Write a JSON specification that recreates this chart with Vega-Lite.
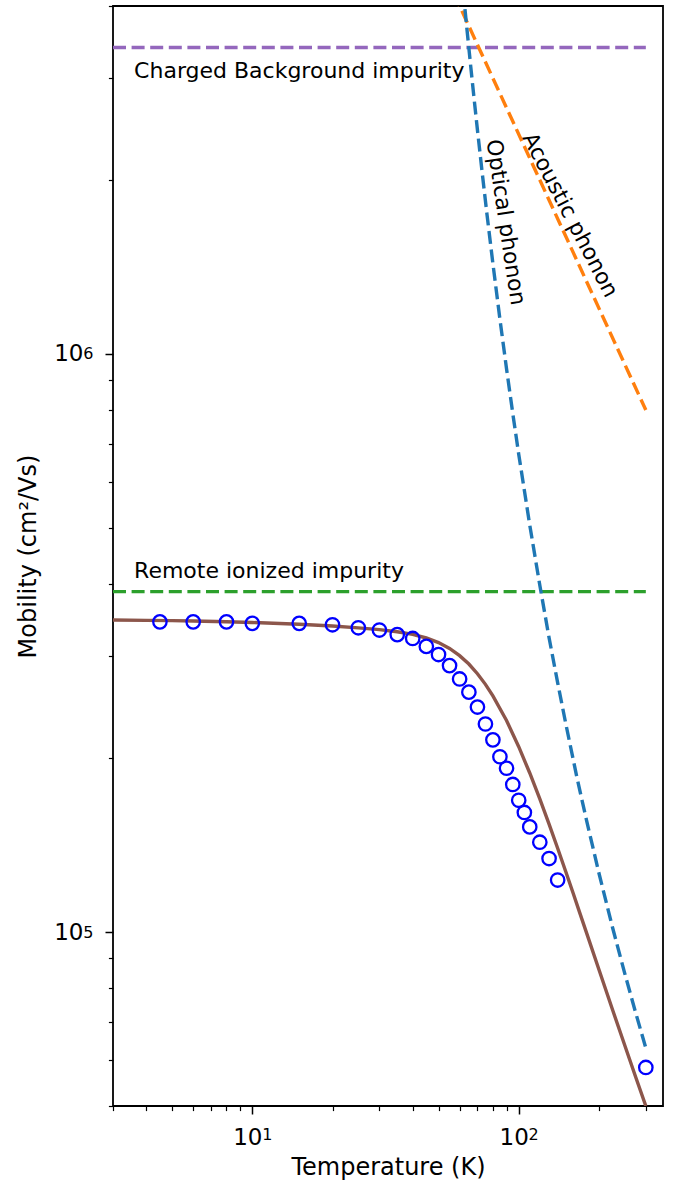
{
  "$schema": "https://vega.github.io/schema/vega-lite/v6.json",
  "width": 550,
  "height": 1100,
  "autosize": {"type": "none"},
  "padding": {"left": 113, "top": 6, "right": 10, "bottom": 76},
  "background": "white",
  "config": {
    "view": {"stroke": "black", "strokeWidth": 1.8},
    "font": "DejaVu Sans",
    "axis": {"labelFont": "DejaVu Sans", "titleFont": "DejaVu Sans", "labelColor": "black", "titleColor": "black", "tickColor": "black", "grid": false, "domain": false, "titleFontWeight": "normal"}
  },
  "datasets": {
    "bg": [{"T": 3, "mu": 3390000}, {"T": 300, "mu": 3390000}],
    "ri": [{"T": 3, "mu": 388000}, {"T": 300, "mu": 388000}],
    "ac": [{"T": 50, "mu": 4800000}, {"T": 300, "mu": 800000}],
    "op": [
      {"T": 60, "mu": 4930000}, {"T": 62, "mu": 4209000}, {"T": 64, "mu": 3628000}, {"T": 66, "mu": 3155000},
      {"T": 68, "mu": 2765000}, {"T": 70, "mu": 2441000}, {"T": 73, "mu": 2051000}, {"T": 76, "mu": 1745000},
      {"T": 80, "mu": 1434000}, {"T": 85, "mu": 1149000}, {"T": 90, "mu": 943000}, {"T": 95, "mu": 789000},
      {"T": 100, "mu": 671000}, {"T": 110, "mu": 506000}, {"T": 120, "mu": 398000}, {"T": 130, "mu": 323000},
      {"T": 140, "mu": 270000}, {"T": 150, "mu": 230000}, {"T": 165, "mu": 186000}, {"T": 180, "mu": 155500},
      {"T": 200, "mu": 126500}, {"T": 225, "mu": 101800}, {"T": 250, "mu": 84800}, {"T": 275, "mu": 72400},
      {"T": 300, "mu": 63000}
    ],
    "total": [
      {"T": 3, "mu": 346600}, {"T": 4, "mu": 346100}, {"T": 5, "mu": 345700}, {"T": 6, "mu": 345200},
      {"T": 8, "mu": 344200}, {"T": 10, "mu": 343200}, {"T": 15, "mu": 340700}, {"T": 20, "mu": 338300},
      {"T": 25, "mu": 335900}, {"T": 30, "mu": 333500}, {"T": 35, "mu": 330700}, {"T": 40, "mu": 327200},
      {"T": 45, "mu": 322600}, {"T": 50, "mu": 316800}, {"T": 55, "mu": 309500}, {"T": 60, "mu": 300700},
      {"T": 65, "mu": 290800}, {"T": 70, "mu": 279800}, {"T": 75, "mu": 268200}, {"T": 80, "mu": 256200},
      {"T": 90, "mu": 232200}, {"T": 100, "mu": 209200}, {"T": 110, "mu": 188400}, {"T": 120, "mu": 169900},
      {"T": 130, "mu": 153700}, {"T": 140, "mu": 139600}, {"T": 150, "mu": 127400}, {"T": 160, "mu": 116800},
      {"T": 170, "mu": 107500}, {"T": 180, "mu": 99470}, {"T": 200, "mu": 86100}, {"T": 225, "mu": 73360},
      {"T": 250, "mu": 63700}, {"T": 275, "mu": 56080}, {"T": 300, "mu": 50000}
    ],
    "meas": [
      {"T": 4.5, "mu": 344000}, {"T": 6, "mu": 344000}, {"T": 8, "mu": 344000}, {"T": 10, "mu": 342000},
      {"T": 15, "mu": 342000}, {"T": 20, "mu": 340000}, {"T": 25, "mu": 336000}, {"T": 30, "mu": 333000},
      {"T": 35, "mu": 327000}, {"T": 40, "mu": 322000}, {"T": 45, "mu": 312000}, {"T": 50, "mu": 302000},
      {"T": 55, "mu": 289000}, {"T": 60, "mu": 274000}, {"T": 65, "mu": 260000}, {"T": 70, "mu": 245000},
      {"T": 75, "mu": 229000}, {"T": 80, "mu": 215000}, {"T": 85, "mu": 201000}, {"T": 90, "mu": 192000},
      {"T": 95, "mu": 180000}, {"T": 100, "mu": 169000}, {"T": 105, "mu": 161000}, {"T": 110, "mu": 152000},
      {"T": 120, "mu": 143000}, {"T": 130, "mu": 134000}, {"T": 140, "mu": 123000}, {"T": 300, "mu": 58300}
    ],
    "labels": [
      {"name": "bg", "T": 3.6, "mu": 3000000, "text": "Charged Background impurity"},
      {"name": "ri", "T": 3.6, "mu": 410000, "text": "Remote ionized impurity"},
      {"name": "op", "T": 89.4, "mu": 1690000, "text": "Optical phonon"},
      {"name": "ac", "T": 156, "mu": 1740000, "text": "Acoustic phonon"}
    ]
  },
  "resolve": {"axis": {"x": "independent", "y": "independent"}},
  "layer": [
    {
      "data": {"name": "bg"},
      "mark": {"type": "line", "color": "#9467bd", "strokeWidth": 3.4, "strokeDash": [13, 5.6]},
      "encoding": {
        "x": {"field": "T", "type": "quantitative",
          "scale": {"type": "log", "domain": [3, 348], "nice": false, "zero": false},
          "axis": {"orient": "bottom", "values": [10, 100], "labelExpr": "'10'",
            "tickSize": 8, "tickWidth": 1.5, "labelFontSize": 23, "labelPadding": 12, "labelOffset": -5,
            "title": "Temperature (K)", "titleFontSize": 24, "titlePadding": 6}},
        "y": {"field": "mu", "type": "quantitative",
          "scale": {"type": "log", "domain": [50000, 4000000], "nice": false, "zero": false},
          "axis": {"orient": "left", "values": [100000, 1000000], "labelExpr": "'10'",
            "tickSize": 8, "tickWidth": 1.5, "labelFontSize": 23, "labelPadding": 22,
            "title": "Mobility (cm²/Vs)", "titleFontSize": 24, "titlePadding": 13}}
      }
    },
    {
      "data": {"name": "ri"},
      "mark": {"type": "line", "color": "#2ca02c", "strokeWidth": 3.4, "strokeDash": [13, 5.6]},
      "encoding": {
        "x": {"field": "T", "type": "quantitative",
          "axis": {"orient": "bottom", "values": [3, 4, 5, 6, 7, 8, 9, 20, 30, 40, 50, 60, 70, 80, 90, 200, 300],
            "labels": false, "tickSize": 4.6, "tickWidth": 1.2, "title": null}},
        "y": {"field": "mu", "type": "quantitative",
          "axis": {"orient": "left", "values": [50000, 60000, 70000, 80000, 90000, 200000, 300000, 400000, 500000, 600000, 700000, 800000, 900000, 2000000, 3000000, 4000000],
            "labels": false, "tickSize": 4.6, "tickWidth": 1.2, "title": null}}
      }
    },
    {
      "data": {"name": "ac"},
      "mark": {"type": "line", "color": "#ff7f0e", "strokeWidth": 3.4, "strokeDash": [13, 5.6], "clip": true},
      "encoding": {
        "x": {"field": "T", "type": "quantitative",
          "axis": {"orient": "bottom", "values": [10, 100], "labelExpr": "datum.value == 10 ? '1' : '2'",
            "tickSize": 8, "tickOpacity": 0, "labelFontSize": 16, "labelPadding": 12, "labelOffset": 14.5, "labelDy": -8, "title": null}},
        "y": {"field": "mu", "type": "quantitative",
          "axis": {"orient": "left", "values": [100000, 1000000], "labelExpr": "datum.value == 100000 ? '5' : '6'",
            "tickSize": 8, "tickOpacity": 0, "labelFontSize": 16, "labelPadding": 12, "labelDy": -12, "title": null}}
      }
    },
    {
      "data": {"name": "op"},
      "mark": {"type": "line", "color": "#1f77b4", "strokeWidth": 3.4, "strokeDash": [13, 5.6], "clip": true},
      "encoding": {
        "x": {"field": "T", "type": "quantitative", "axis": null},
        "y": {"field": "mu", "type": "quantitative", "axis": null}
      }
    },
    {
      "data": {"name": "total"},
      "mark": {"type": "line", "color": "#8c564b", "strokeWidth": 3.4, "clip": true},
      "encoding": {
        "x": {"field": "T", "type": "quantitative", "axis": null},
        "y": {"field": "mu", "type": "quantitative", "axis": null}
      }
    },
    {
      "data": {"name": "meas"},
      "mark": {"type": "point", "shape": "circle", "filled": false, "color": "#0000ff", "size": 180, "strokeWidth": 2.3, "opacity": 1},
      "encoding": {
        "x": {"field": "T", "type": "quantitative", "axis": null},
        "y": {"field": "mu", "type": "quantitative", "axis": null}
      }
    },
    {
      "data": {"name": "labels"},
      "transform": [{"filter": "datum.name == 'bg' || datum.name == 'ri'"}],
      "mark": {"type": "text", "align": "left", "baseline": "alphabetic", "fontSize": 22, "font": "DejaVu Sans", "color": "black"},
      "encoding": {
        "x": {"field": "T", "type": "quantitative", "axis": null},
        "y": {"field": "mu", "type": "quantitative", "axis": null},
        "text": {"field": "text"}
      }
    },
    {
      "data": {"name": "labels"},
      "transform": [{"filter": "datum.name == 'op'"}],
      "mark": {"type": "text", "align": "center", "baseline": "middle", "fontSize": 22, "font": "DejaVu Sans", "color": "black", "angle": 81.5},
      "encoding": {
        "x": {"field": "T", "type": "quantitative", "axis": null},
        "y": {"field": "mu", "type": "quantitative", "axis": null},
        "text": {"field": "text"}
      }
    },
    {
      "data": {"name": "labels"},
      "transform": [{"filter": "datum.name == 'ac'"}],
      "mark": {"type": "text", "align": "center", "baseline": "middle", "fontSize": 22, "font": "DejaVu Sans", "color": "black", "angle": 62.5},
      "encoding": {
        "x": {"field": "T", "type": "quantitative", "axis": null},
        "y": {"field": "mu", "type": "quantitative", "axis": null},
        "text": {"field": "text"}
      }
    }
  ]
}
